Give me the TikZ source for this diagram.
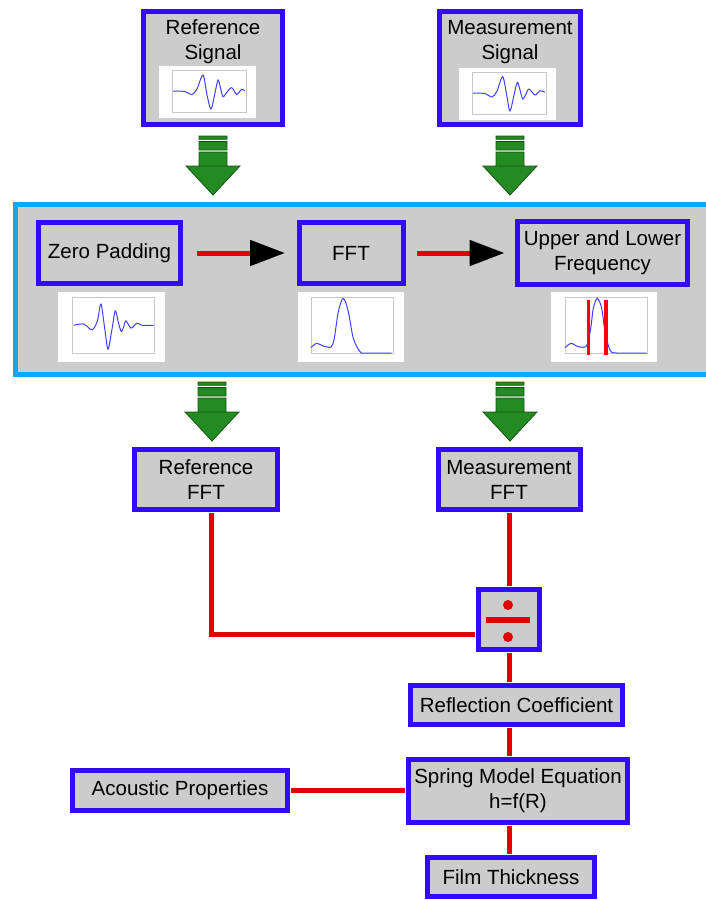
\documentclass[tikz,border=0pt]{standalone}
\usepackage{fontspec}
\setmainfont{Liberation Sans}
\usetikzlibrary{arrows.meta}

\definecolor{boxblue}{RGB}{52,10,250}
\definecolor{boxgray}{RGB}{204,204,204}
\definecolor{linkred}{RGB}{224,0,0}
\definecolor{panelblue}{RGB}{14,168,248}
\definecolor{arrowgreen}{RGB}{36,138,34}
\definecolor{arrowdark}{RGB}{22,84,20}
\definecolor{wavecol}{RGB}{64,64,255}
\definecolor{framegray}{RGB}{200,200,200}

\tikzset{
  stage/.style={draw=boxblue, fill=boxgray, line width=5pt, inner sep=0pt,
    align=center, font=\fontsize{20.5}{25}\selectfont},
  lbl/.style={inner sep=0pt, align=center, font=\fontsize{20.5}{25}\selectfont},
  plotbg/.style={fill=white, inner sep=0pt},
  link/.style={draw=linkred, line width=5pt},
  wave/.style={draw=wavecol, line width=1pt},
  cutoff/.style={draw=red, line width=3.5pt},
  downarrow/.pic={
    \filldraw[fill=arrowgreen, draw=arrowdark, line width=0.8pt]
      (-14,0) rectangle (14,3.3)
      (-14,5.6) rectangle (14,14)
      (-14,16) rectangle (14,30)
      (-27,30) -- (27,30) -- (0,59) -- cycle;
  }
}

\begin{document}
\begin{tikzpicture}[x=1pt, y=-1pt]
  \useasboundingbox (0,0) rectangle (705,900);

  % input signals
  \node[stage, minimum width=139, minimum height=113] (refsig) at (213,68) {};
  \node[stage, minimum width=141, minimum height=113] (meassig) at (510,68) {};
  \node[lbl] (refsigtext) at (213,42) {Reference\\Signal};
  \node[lbl] (meassigtext) at (510,42) {Measurement\\Signal};
  \node[plotbg, minimum width=97, minimum height=52] (refplot) at (207.5,92) {};
  \node[plotbg, minimum width=97, minimum height=52] (measplot) at (507.5,94) {};
  \begin{scope}[shift={(209,91)}]
    \draw[framegray] (-37,-21) rectangle (37,21);
    \draw[wave] plot[smooth] coordinates {(-36,0) (-24,0.5) (-17,3.5) (-12,-2)
      (-6,-16) (-2,4) (2,18) (6,2) (9,-11) (11.5,-3) (14,5.7) (18,1)
      (22.7,-3.3) (27.7,3.3) (32.7,-1.7) (36,0)};
  \end{scope}
  \begin{scope}[shift={(509,93)}]
    \draw[framegray] (-37,-21) rectangle (37,21);
    \draw[wave] plot[smooth] coordinates {(-36,0) (-24,0.5) (-17,4) (-12,-2)
      (-6.3,-16.3) (-2,4) (1,18) (5,2) (8.3,-10.7) (11,-3) (13.7,6) (17,1)
      (20,-4) (26,2) (31,-2.3) (36,-0.7)};
  \end{scope}

  \pic at (213,136) {downarrow};
  \pic at (510,136) {downarrow};

  % processing panel
  \node[draw=panelblue, fill=boxgray, line width=5pt, inner sep=0pt,
    minimum width=704.5, minimum height=170] (panel) at (367.75,289.5) {};
  \node[stage, minimum width=142, minimum height=61] (zeropad) at (109.5,253) {Zero Padding};
  \node[stage, minimum width=104, minimum height=61] (fft) at (351,253) {FFT};
  \node[stage, minimum width=170, minimum height=63] (band) at (602.5,253) {Upper and Lower\\Frequency};
  \draw[link, -{Triangle[length=35pt,width=25pt,black]},
    shorten <=13.5pt, shorten >=11.5pt] (zeropad) -- (fft);
  \draw[link, -{Triangle[length=35pt,width=25pt,black]},
    shorten <=11.5pt, shorten >=10.5pt] (fft) -- (band);

  \node[plotbg, minimum width=107, minimum height=70] (zpplot) at (111.5,327) {};
  \node[plotbg, minimum width=106, minimum height=70] (fftplot) at (350.5,326.5) {};
  \node[plotbg, minimum width=106, minimum height=70] (bandplot) at (604,326.5) {};
  \begin{scope}[shift={(113.3,325.3)}]
    \draw[framegray] (-41,-28) rectangle (41,28);
    \draw[wave] plot[smooth] coordinates {(-39.7,0) (-29.7,-1.3) (-21.3,4.5)
      (-16,-4) (-12.3,-21.2) (-8.5,4) (-5.3,23.8) (-1.5,5) (2,-14.5) (5,-3)
      (8,6.2) (10.5,1) (12.7,-4.5) (17.7,2.8) (23.7,-2.2) (28.7,0) (40.3,0)};
  \end{scope}
  \begin{scope}[shift={(352,325.3)}]
    \draw[framegray] (-41,-28) rectangle (41,28);
    \draw[wave] plot[smooth] coordinates {(-41,22.4) (-35.3,18) (-28.7,20.7)
      (-21,21.7) (-17.7,13) (-13.7,-13.6) (-8.7,-27) (-3.7,-13.6) (1.3,13)
      (8,26.4) (13,27.7) (39.7,27.7)};
  \end{scope}
  \begin{scope}[shift={(606,325.3)}]
    \draw[framegray] (-41,-28) rectangle (41,28);
    \draw[wave] plot[smooth] coordinates {(-41,22.4) (-35,18) (-27.7,21.4)
      (-19.3,20.4) (-15.3,3) (-12.7,-17) (-8.7,-27) (-4.3,-17) (-1,6.4)
      (4,24.7) (10.7,27.7) (40.7,27.7)};
    \draw[cutoff] (-17.5,-25.3) -- (-17.5,29.7);
    \draw[cutoff] (0.2,-25.3) -- (0.2,29.7);
  \end{scope}

  \pic at (212,382) {downarrow};
  \pic at (510,382) {downarrow};

  % spectra and thickness chain
  \node[stage, minimum width=143, minimum height=60] (reffft) at (206,479.5) {Reference\\FFT};
  \node[stage, minimum width=142, minimum height=60] (measfft) at (509,479.5) {Measurement\\FFT};
  \node[stage, minimum width=61, minimum height=60] (divide) at (509,619.5) {};
  \fill[linkred] ([xshift=-1pt,yshift=14.5pt]divide.center) circle (5pt)
    ([xshift=-1pt,yshift=-17.5pt]divide.center) circle (5pt);
  \fill[linkred] ([xshift=-23pt,yshift=2.5pt]divide.center) rectangle ([xshift=21pt,yshift=-3.5pt]divide.center);
  \node[stage, minimum width=212, minimum height=39] (reflcoef) at (516.5,705) {Reflection Coefficient};
  \node[stage, minimum width=219, minimum height=63] (spring) at (518,791) {Spring Model Equation\\h=f(R)};
  \node[stage, minimum width=167, minimum height=39] (film) at (511,877) {Film Thickness};
  \node[stage, minimum width=215, minimum height=40] (acoustic) at (180,790) {Acoustic Properties};

  \begin{scope}[shorten <=1pt, shorten >=1pt]
    \draw[link] ([xshift=5pt]reffft.south) |- ([yshift=-14.5pt]divide.west);
    \draw[link] (measfft.south) -- (divide.north);
    \draw[link] (divide.south) -- (divide.south |- reflcoef.north);
    \draw[link] (divide.south |- reflcoef.south) -- (divide.south |- spring.north);
    \draw[link] (divide.south |- spring.south) -- (divide.south |- film.north);
    \draw[link] (acoustic.east) -- (acoustic.east -| spring.west);
  \end{scope}
\end{tikzpicture}
\end{document}
